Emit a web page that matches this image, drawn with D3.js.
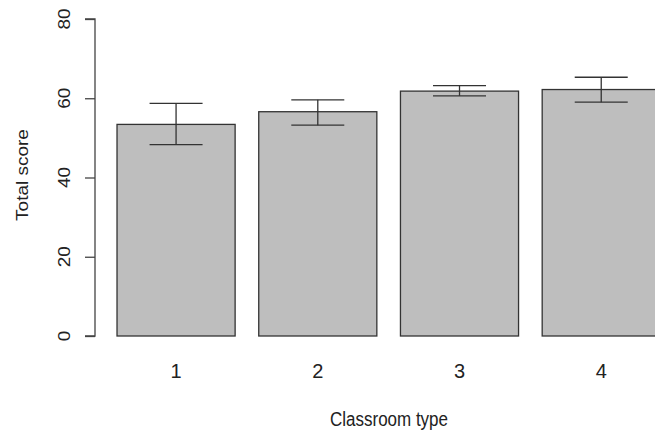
<!DOCTYPE html>
<html>
<head>
<meta charset="utf-8">
<script src="https://cdn.jsdelivr.net/npm/d3@7"></script>
<style>
  body { margin: 0; background: white; }
  text { font-family: "Liberation Sans", Arial, sans-serif; fill: #222; }
</style>
</head>
<body>
<div id="vis"></div>
<script>
// barplot of mean total score per classroom type, with error bars
let categories = ['1', '2', '3', '4'];
let means = [53.4, 56.6, 61.8, 62.2];
let lower = [48.3, 53.2, 60.6, 59.0];
let upper = [58.7, 59.6, 63.2, 65.3];
let yTicks = [0, 20, 40, 60, 80];

let width = 655, height = 432;

let svg = d3.select('#vis')
  .append('svg')
  .attr('width', width)
  .attr('height', height);

// x in R barplot units (width 1, space 0.2)
let x = d3.scaleLinear().domain([0, 1]).range([93.4, 211.5]);
let y = d3.scaleLinear().domain([0, 80]).range([336, 19]);

let barLeft = i => 0.2 + i * 1.2;
let barMid = i => barLeft(i) + 0.5;

// bars
svg.selectAll('rect.bar')
  .data(means)
  .enter().append('rect')
  .attr('class', 'bar')
  .attr('x', (d, i) => x(barLeft(i)))
  .attr('y', d => y(d))
  .attr('width', x(1) - x(0))
  .attr('height', d => y(0) - y(d))
  .attr('fill', '#bebebe')
  .attr('stroke', '#333')
  .attr('stroke-width', 1.3);

// error bars
let capHalf = 26.5;
let err = svg.selectAll('g.err')
  .data(means)
  .enter().append('g')
  .attr('class', 'err')
  .attr('stroke', '#333')
  .attr('stroke-width', 1.3);

err.append('line')
  .attr('x1', (d, i) => x(barMid(i)))
  .attr('x2', (d, i) => x(barMid(i)))
  .attr('y1', (d, i) => y(lower[i]))
  .attr('y2', (d, i) => y(upper[i]));
err.append('line')
  .attr('x1', (d, i) => x(barMid(i)) - capHalf)
  .attr('x2', (d, i) => x(barMid(i)) + capHalf)
  .attr('y1', (d, i) => y(upper[i]))
  .attr('y2', (d, i) => y(upper[i]));
err.append('line')
  .attr('x1', (d, i) => x(barMid(i)) - capHalf)
  .attr('x2', (d, i) => x(barMid(i)) + capHalf)
  .attr('y1', (d, i) => y(lower[i]))
  .attr('y2', (d, i) => y(lower[i]));

// y axis
let yAxis = svg.append('g')
  .attr('transform', 'translate(95,0)')
  .call(d3.axisLeft(y).tickValues(yTicks).tickSize(10).tickFormat(''));
yAxis.select('.domain').attr('stroke', '#444').attr('stroke-width', 1.3)
  .attr('d', 'M-10,' + y(80) + 'H0V' + y(0) + 'H-10');
yAxis.selectAll('.tick line').attr('stroke', '#444').attr('stroke-width', 1.3);

svg.selectAll('text.ytick')
  .data(yTicks)
  .enter().append('text')
  .attr('class', 'ytick')
  .attr('transform', d => 'translate(69.5,' + y(d) + ') rotate(-90) scale(1,0.82)')
  .attr('text-anchor', 'middle')
  .style('font-size', '19px')
  .text(d => d);

// x tick labels
svg.selectAll('text.xtick')
  .data(categories)
  .enter().append('text')
  .attr('class', 'xtick')
  .attr('x', (d, i) => x(barMid(i)))
  .attr('y', 378)
  .attr('text-anchor', 'middle')
  .style('font-size', '20px')
  .text(d => d);

// axis titles
svg.append('text')
  .attr('x', 330)
  .attr('y', 426)
  .attr('textLength', 118)
  .attr('lengthAdjust', 'spacingAndGlyphs')
  .style('font-size', '20px')
  .text('Classroom type');

svg.append('text')
  .attr('transform', 'translate(27.5,175) rotate(-90) scale(1,0.82)')
  .attr('text-anchor', 'middle')
  .style('font-size', '19px')
  .text('Total score');
</script>
</body>
</html>
